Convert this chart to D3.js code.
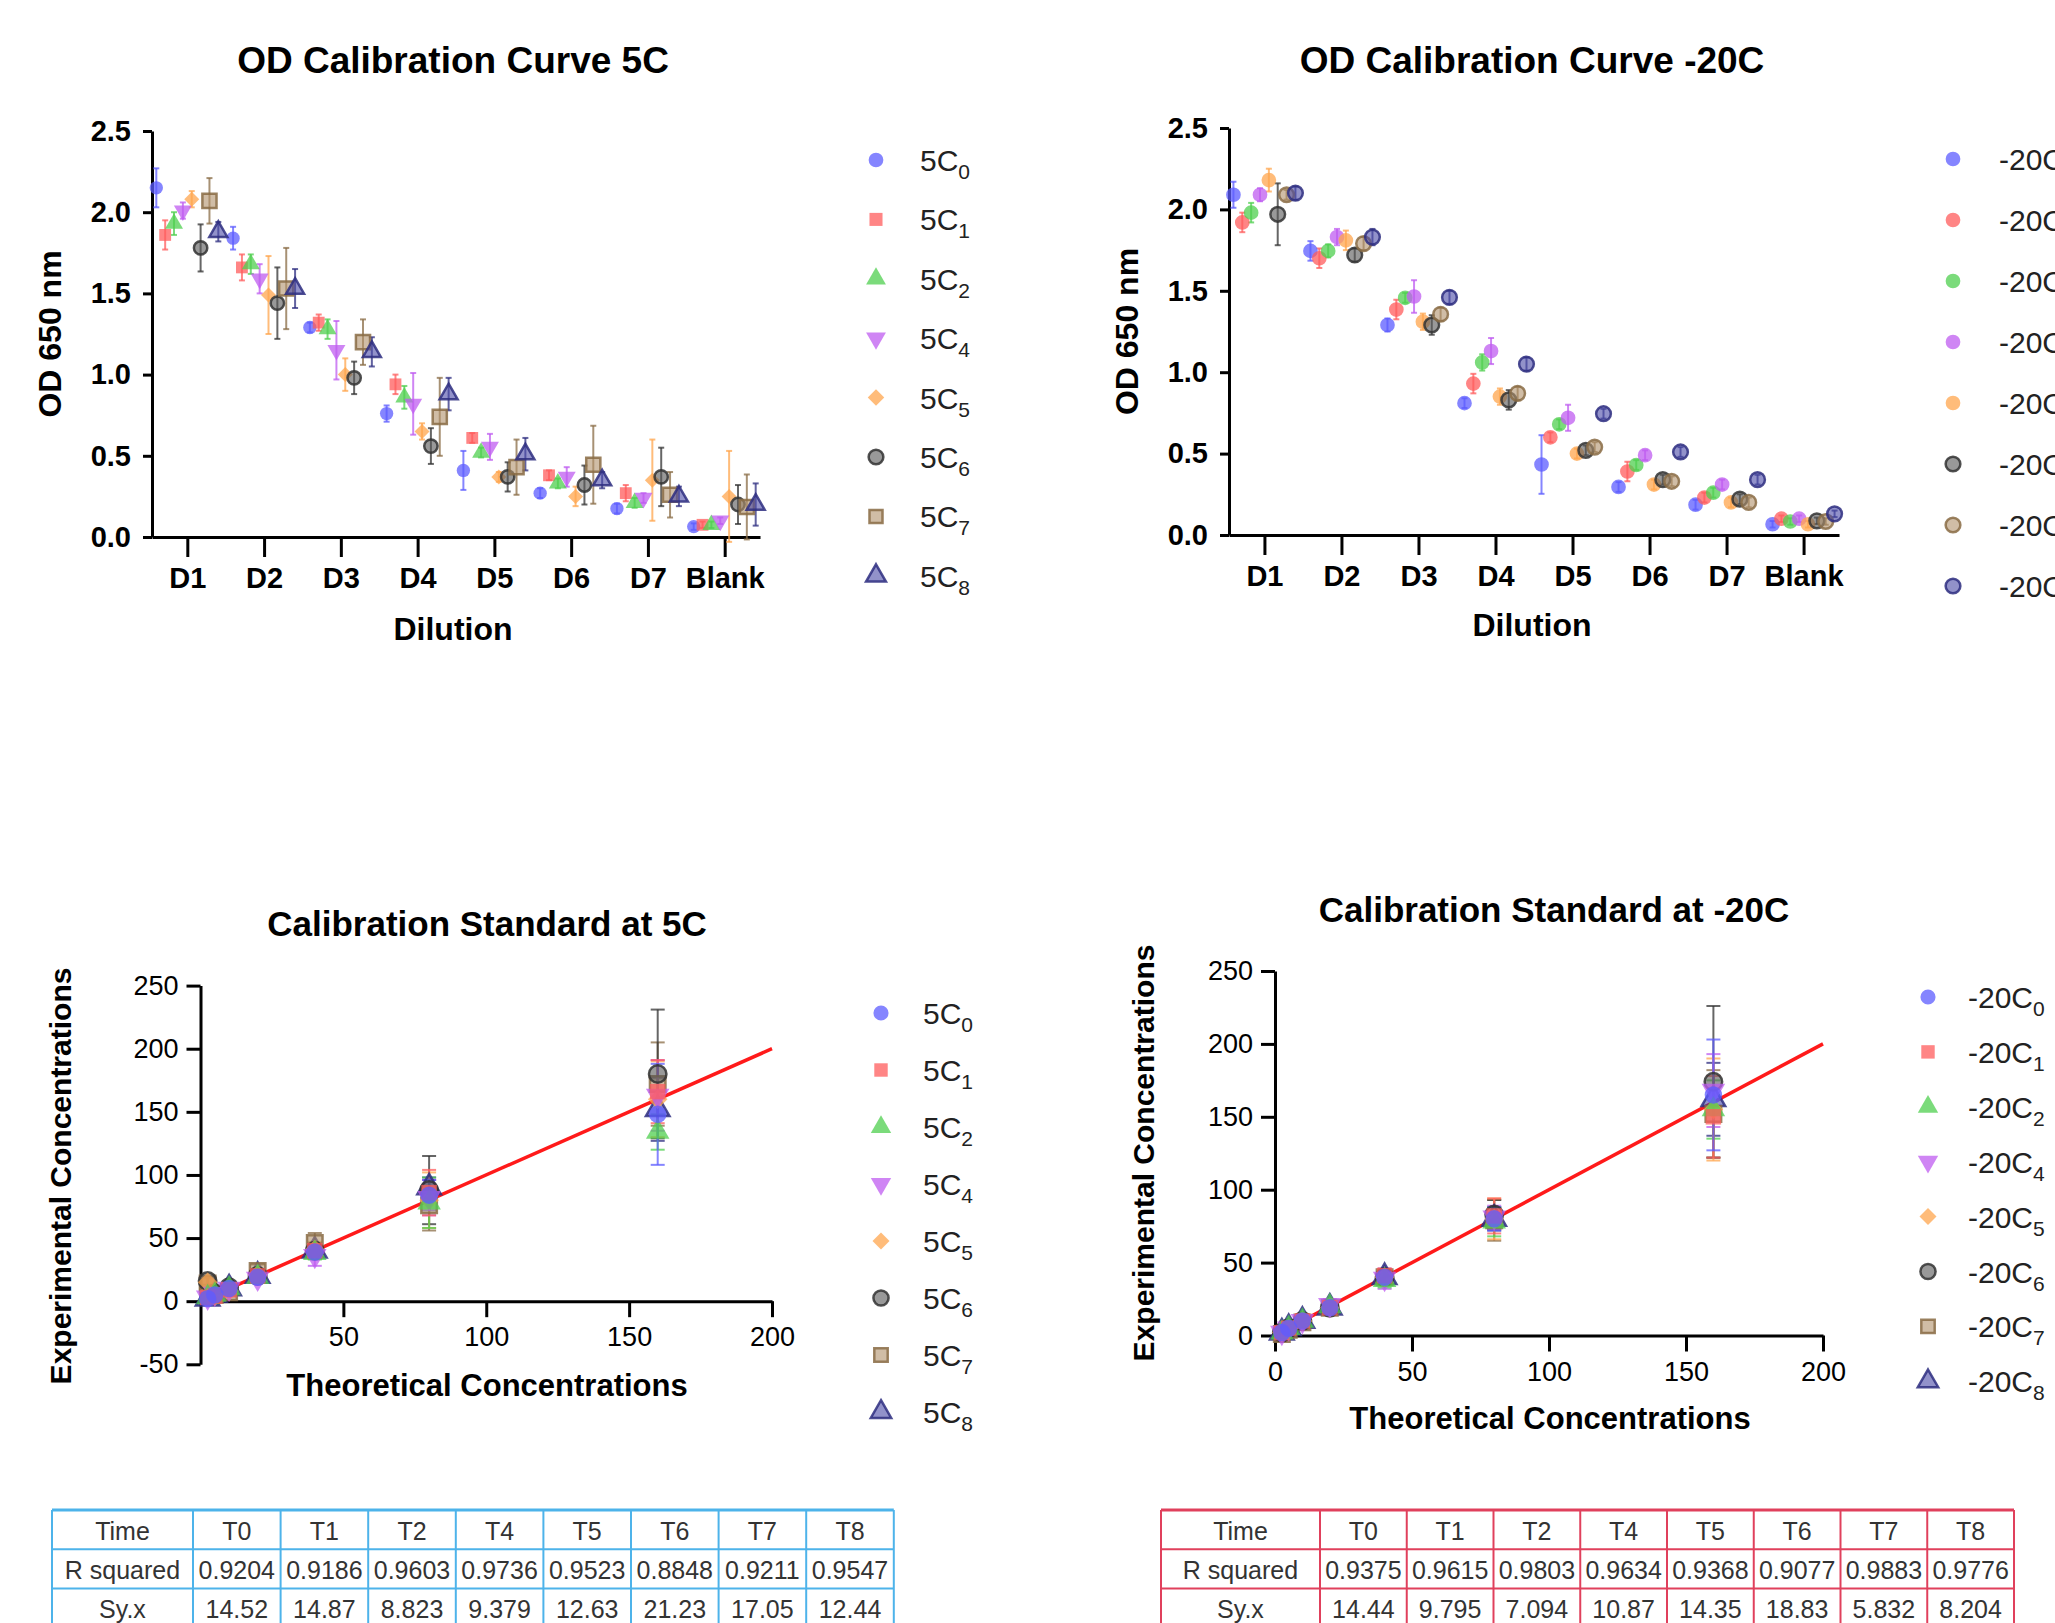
<!DOCTYPE html>
<html>
<head>
<meta charset="utf-8">
<script src="https://cdn.jsdelivr.net/npm/d3@7"></script>
<style>
body{margin:0;background:#fff}
svg{display:block}
</style>
</head>
<body>
<svg id="chart" width="2055" height="1623"></svg>
<script>
// ---- data ----
const dilutions = ['D1','D2','D3','D4','D5','D6','D7','Blank']
const seriesIdx = ['0','1','2','4','5','6','7','8']
const concentrations = [160, 80, 40, 20, 10, 5, 2.5]

// OD 650 at 5C, one row per series (0,1,2,4,5,6,7,8), one column per dilution
const od5Mean = [
  [2.15, 1.84, 1.29, 0.76, 0.41, 0.27, 0.175, 0.064],
  [1.86, 1.66, 1.32, 0.94, 0.61, 0.38, 0.27, 0.075],
  [1.93, 1.68, 1.28, 0.86, 0.52, 0.33, 0.21, 0.075],
  [2.01, 1.59, 1.15, 0.82, 0.555, 0.37, 0.24, 0.10],
  [2.08, 1.49, 1.00, 0.65, 0.37, 0.25, 0.35, 0.25],
  [1.78, 1.44, 0.98, 0.56, 0.37, 0.32, 0.37, 0.20],
  [2.07, 1.53, 1.20, 0.74, 0.43, 0.445, 0.26, 0.185],
  [1.88, 1.53, 1.14, 0.88, 0.51, 0.35, 0.25, 0.20]
]
const od5Err = [
  [0.12, 0.07, 0.03, 0.05, 0.12, 0.03, 0.03, 0.02],
  [0.09, 0.08, 0.05, 0.06, 0.03, 0.03, 0.05, 0.02],
  [0.07, 0.06, 0.06, 0.07, 0.03, 0.03, 0.03, 0.02],
  [0.05, 0.09, 0.18, 0.19, 0.08, 0.06, 0.03, 0.02],
  [0.05, 0.24, 0.10, 0.05, 0.03, 0.06, 0.25, 0.28],
  [0.145, 0.22, 0.10, 0.11, 0.09, 0.12, 0.18, 0.12],
  [0.14, 0.25, 0.14, 0.24, 0.17, 0.24, 0.14, 0.20],
  [0.06, 0.12, 0.09, 0.10, 0.10, 0.05, 0.06, 0.13]
]

// OD 650 at -20C
const od20Mean = [
  [2.09, 1.745, 1.29, 0.81, 0.433, 0.295, 0.186, 0.066],
  [1.92, 1.70, 1.385, 0.93, 0.60, 0.39, 0.23, 0.10],
  [1.98, 1.745, 1.457, 1.06, 0.68, 0.43, 0.26, 0.083],
  [2.09, 1.83, 1.465, 1.13, 0.72, 0.49, 0.31, 0.10],
  [2.18, 1.81, 1.31, 0.85, 0.50, 0.31, 0.20, 0.066],
  [1.97, 1.72, 1.29, 0.83, 0.52, 0.34, 0.22, 0.087],
  [2.09, 1.79, 1.356, 0.87, 0.54, 0.33, 0.20, 0.083],
  [2.10, 1.83, 1.46, 1.05, 0.745, 0.51, 0.34, 0.13]
]
const od20Err = [
  [0.08, 0.06, 0.04, 0.03, 0.18, 0.03, 0.03, 0.02],
  [0.06, 0.06, 0.06, 0.06, 0.03, 0.06, 0.03, 0.02],
  [0.06, 0.04, 0.03, 0.05, 0.03, 0.03, 0.03, 0.02],
  [0.04, 0.05, 0.10, 0.08, 0.08, 0.03, 0.03, 0.02],
  [0.07, 0.06, 0.05, 0.05, 0.03, 0.03, 0.03, 0.02],
  [0.19, 0.04, 0.06, 0.06, 0.03, 0.03, 0.03, 0.02],
  [0.03, 0.04, 0.04, 0.04, 0.03, 0.03, 0.03, 0.02],
  [0.04, 0.05, 0.04, 0.04, 0.03, 0.03, 0.03, 0.02]
]

// back-calculated concentrations, one column per theoretical concentration
const std5Mean = [
  [148, 84, 39, 19, 10, 5, 2],
  [166, 86, 40, 20, 9, 4, 3],
  [134, 78, 38, 19, 10, 5, 3],
  [163, 82, 36, 18, 10, 6, 3],
  [160, 80, 41, 21, 8, 4, 15],
  [180, 88, 40, 20, 11, 6, 16],
  [172, 76, 46, 24, 7, 5, 14],
  [152, 90, 40, 20, 10, 5, 2]
]
const std5Err = [
  [40, 12, 5, 3, 2, 2, 2],
  [25, 18, 6, 4, 2, 2, 2],
  [14, 20, 5, 3, 2, 2, 2],
  [28, 14, 8, 3, 2, 2, 2],
  [30, 22, 6, 4, 3, 3, 4],
  [51, 27, 6, 4, 3, 3, 3],
  [33, 20, 8, 5, 3, 3, 5],
  [25, 8, 4, 3, 2, 2, 2]
]
const std20Mean = [
  [165, 80, 40, 19, 10, 5, 2],
  [150, 82, 41, 19, 10, 5, 2],
  [155, 78, 38, 20, 10, 5, 2],
  [168, 81, 39, 21, 10, 5, 2],
  [155, 80, 40, 19, 10, 5, 2],
  [174, 83, 40, 19, 10, 5, 2],
  [152, 79, 40, 19, 9, 4, 1],
  [162, 80, 40, 19, 10, 5, 2]
]
const std20Err = [
  [38, 8, 5, 3, 2, 2, 1],
  [28, 12, 5, 3, 2, 2, 1],
  [20, 10, 5, 3, 2, 2, 1],
  [25, 8, 7, 4, 2, 2, 1],
  [35, 14, 4, 3, 2, 2, 1],
  [52, 10, 4, 3, 2, 2, 1],
  [30, 14, 4, 3, 2, 2, 1],
  [25, 8, 4, 3, 2, 2, 1]
]
const fitLineX = [2.5, 200]

const tableHeader = ['Time','T0','T1','T2','T4','T5','T6','T7','T8']
const r2At5 = ['0.9204','0.9186','0.9603','0.9736','0.9523','0.8848','0.9211','0.9547']
const syxAt5 = ['14.52','14.87','8.823','9.379','12.63','21.23','17.05','12.44']
const r2At20 = ['0.9375','0.9615','0.9803','0.9634','0.9368','0.9077','0.9883','0.9776']
const syxAt20 = ['14.44','9.795','7.094','10.87','14.35','18.83','5.832','8.204']

// ---- styles ----
const FONT = '"Liberation Sans", Arial, Helvetica, sans-serif'
const fillColor = ['#5c5cff','#ff5c5c','#4fcf4f','#bf5cf0','#ffa64d','#555555','#b0916a','#4a4aa6']
const strokeColor = ['#5c5cff','#ff5c5c','#4fcf4f','#bf5cf0','#ffa64d','#333333','#8a6c45','#2e2e80']
const shapes = ['circle','square','triangle','down','diamond','circle','square','triangle']

const svg = d3.select('#chart').attr('font-family', FONT)
svg.append('rect').attr('width',2055).attr('height',1623).attr('fill','#fff')

function symbolPath(shape, size){
  if(shape === 'circle') return {d: d3.symbol(d3.symbolCircle, size)(), rot: 0}
  if(shape === 'square') return {d: d3.symbol(d3.symbolSquare, size)(), rot: 0}
  if(shape === 'diamond') return {d: d3.symbol(d3.symbolSquare, size*0.8)(), rot: 45}
  if(shape === 'down') return {d: d3.symbol(d3.symbolTriangle, size)(), rot: 180}
  return {d: d3.symbol(d3.symbolTriangle, size)(), rot: 0}
}

function marker(g, i, x, y, size, shape){
  const s = symbolPath(shape, size)
  g.append('path')
    .attr('d', s.d)
    .attr('transform', `translate(${x},${y}) rotate(${s.rot})`)
    .attr('fill', fillColor[i])
    .attr('fill-opacity', i >= 5 ? 0.6 : 0.75)
    .attr('stroke', strokeColor[i])
    .attr('stroke-opacity', 0.85)
    .attr('stroke-width', i >= 5 ? 2.5 : 0)
}

function errorBar(g, i, x, y0, y1, cap){
  const c = strokeColor[i]
  g.append('line').attr('x1',x).attr('x2',x).attr('y1',y0).attr('y2',y1)
    .attr('stroke',c).attr('stroke-width',2).attr('stroke-opacity',0.75)
  ;[y0,y1].forEach(yy => {
    g.append('line').attr('x1',x-cap).attr('x2',x+cap).attr('y1',yy).attr('y2',yy)
      .attr('stroke',c).attr('stroke-width',2).attr('stroke-opacity',0.75)
  })
}

function styleAxis(sel, size, weight){
  sel.select('.domain').attr('stroke','#000').attr('stroke-width',3)
  sel.selectAll('.tick line').attr('stroke','#000').attr('stroke-width',3)
  sel.selectAll('.tick text').attr('fill','#000').attr('font-size',size)
    .attr('font-weight',weight).attr('font-family',FONT)
}

function legend(cfg){
  const g = svg.append('g')
  seriesIdx.forEach((s,i) => {
    const y = cfg.y0 + i*cfg.dy
    marker(g, i, cfg.x, y, cfg.size, cfg.circles ? 'circle' : shapes[i])
    const t = g.append('text').attr('x', cfg.tx).attr('y', y + 11)
      .attr('font-size', 30).attr('fill','#222')
    t.append('tspan').text(cfg.prefix)
    t.append('tspan').text(s).attr('font-size', 21).attr('dy', 8)
  })
}

function label(text, x, y, size, rotate){
  svg.append('text').text(text)
    .attr('transform', `translate(${x},${y}) rotate(${rotate||0})`)
    .attr('text-anchor','middle').attr('dominant-baseline','central')
    .attr('font-size', size).attr('font-weight','bold').attr('fill','#000')
}

function drawOD(cfg){
  const g = svg.append('g')
  const x = d3.scalePoint().domain(dilutions).range([cfg.left, cfg.right]).padding(0.46)
  const off = d3.scalePoint().domain(seriesIdx).range([-31, 31])
  const y = d3.scaleLinear().domain([0, 2.5]).range([cfg.bottom, cfg.top])

  const ya = g.append('g').attr('transform',`translate(${cfg.left},0)`)
    .call(d3.axisLeft(y).tickValues([0,0.5,1,1.5,2,2.5]).tickFormat(d3.format('.1f'))
      .tickSize(9).tickSizeOuter(0).tickPadding(12))
  styleAxis(ya, 29, 'bold')
  const xa = g.append('g').attr('transform',`translate(0,${cfg.bottom})`)
    .call(d3.axisBottom(x).tickSize(20).tickSizeOuter(0).tickPadding(10))
  styleAxis(xa, 29, 'bold')

  seriesIdx.forEach((s,i) => {
    dilutions.forEach((d,j) => {
      const px = x(d) + off(s)
      const m = cfg.means[i][j], e = cfg.errs[i][j]
      errorBar(g, i, px, y(m-e), y(m+e), 3)
    })
  })
  seriesIdx.forEach((s,i) => {
    dilutions.forEach((d,j) => {
      const px = x(d) + off(s)
      const sz = cfg.circles ? 170 : (i === 6 ? 200 : 140)
      marker(g, i, px, y(cfg.means[i][j]), sz, cfg.circles ? 'circle' : shapes[i])
    })
  })

  label(cfg.title, cfg.titleX, 60, 37)
  label('OD 650 nm', cfg.ylabX, (cfg.top+cfg.bottom)/2, 32, -90)
  label('Dilution', cfg.titleX, cfg.xlabY, 32)
}

function drawCal(cfg){
  const g = svg.append('g')
  const x = d3.scaleLinear().domain([0, 200]).range([cfg.left, cfg.right])
  const y = d3.scaleLinear().domain(cfg.yDomain).range([cfg.bottom, cfg.top])

  const ya = g.append('g').attr('transform',`translate(${cfg.left},0)`)
    .call(d3.axisLeft(y).tickValues(cfg.yTicks).tickFormat(d => String(d))
      .tickSize(14).tickSizeOuter(0).tickPadding(8))
  styleAxis(ya, 27, 'normal')
  const xa = g.append('g').attr('transform',`translate(0,${y(0)})`)
    .call(d3.axisBottom(x).tickValues(cfg.xTicks).tickFormat(d => String(d))
      .tickSize(16).tickSizeOuter(0).tickPadding(10))
  styleAxis(xa, 27, 'normal')

  g.append('line')
    .attr('x1', x(fitLineX[0])).attr('y1', y(fitLineX[0]))
    .attr('x2', x(fitLineX[1])).attr('y2', y(fitLineX[1]))
    .attr('stroke', '#ff1a1a').attr('stroke-width', 3.5)

  // later time points sit underneath, T0 on top
  const order = d3.range(seriesIdx.length).reverse()
  order.forEach(i => {
    concentrations.forEach((c,j) => {
      const m = cfg.means[i][j], e = cfg.errs[i][j]
      errorBar(g, i, x(c), y(m-e), y(m+e), 7)
    })
  })
  order.forEach(i => {
    concentrations.forEach((c,j) => {
      marker(g, i, x(c), y(cfg.means[i][j]), 240, shapes[i])
    })
  })

  label(cfg.title, cfg.titleX, cfg.titleY, 35)
  label('Theoretical Concentrations', cfg.xlabX, cfg.xlabY, 31)
  label('Experimental Concentrations', cfg.ylabX, cfg.ylabY, 30, -90)
}

function table(cfg){
  const g = svg.append('g')
  const rows = [tableHeader, ['R squared'].concat(cfg.r2), ['Sy.x'].concat(cfg.syx)]
  const colX = [cfg.left, cfg.left + cfg.firstW]
  for(let k = 1; k <= 8; k++) colX.push(cfg.left + cfg.firstW + k*cfg.colW)
  const rowH = 39.3
  rows.forEach((r,ri) => {
    r.forEach((v,ci) => {
      g.append('text').text(v)
        .attr('x', (colX[ci] + colX[ci+1])/2)
        .attr('y', cfg.top + ri*rowH + rowH/2 + 1)
        .attr('text-anchor','middle').attr('dominant-baseline','central')
        .attr('font-size', 25).attr('fill','#333')
    })
  })
  const bottom = cfg.top + 3*rowH
  for(let ri = 0; ri <= 3; ri++){
    g.append('line').attr('x1',colX[0]).attr('x2',colX[9])
      .attr('y1',cfg.top + ri*rowH).attr('y2',cfg.top + ri*rowH)
      .attr('stroke',cfg.color).attr('stroke-width', ri === 0 ? 3 : 2)
  }
  colX.forEach(cx => {
    g.append('line').attr('x1',cx).attr('x2',cx).attr('y1',cfg.top).attr('y2',bottom)
      .attr('stroke',cfg.color).attr('stroke-width',2)
  })
}

drawOD({title:'OD Calibration Curve 5C', means:od5Mean, errs:od5Err, circles:false,
  left:152, right:760, top:131, bottom:537, titleX:453, ylabX:50, xlabY:629})
drawOD({title:'OD Calibration Curve -20C', means:od20Mean, errs:od20Err, circles:true,
  left:1229, right:1839, top:128, bottom:535, titleX:1532, ylabX:1127, xlabY:625})

legend({prefix:'5C', x:876, tx:920, y0:160, dy:59.4, size:170, circles:false})
legend({prefix:'-20C', x:1953, tx:1999, y0:159, dy:61, size:170, circles:true})

drawCal({title:'Calibration Standard at 5C', means:std5Mean, errs:std5Err,
  left:200.5, right:772, top:985.6, bottom:1364.3, yDomain:[-50,250],
  yTicks:[-50,0,50,100,150,200,250], xTicks:[50,100,150,200],
  titleX:487, titleY:923, xlabX:487, xlabY:1385, ylabX:60, ylabY:1176})
drawCal({title:'Calibration Standard at -20C', means:std20Mean, errs:std20Err,
  left:1275, right:1823, top:971, bottom:1335.5, yDomain:[0,250],
  yTicks:[0,50,100,150,200,250], xTicks:[0,50,100,150,200],
  titleX:1554, titleY:909, xlabX:1550, xlabY:1418, ylabX:1143, ylabY:1153})

legend({prefix:'5C', x:881, tx:923, y0:1013, dy:57, size:180, circles:false})
legend({prefix:'-20C', x:1928, tx:1968, y0:997, dy:54.9, size:180, circles:false})

table({left:52, firstW:141, colW:87.6, top:1510, color:'#4db3ea', r2:r2At5, syx:syxAt5})
table({left:1161, firstW:159, colW:86.75, top:1510, color:'#e0405c', r2:r2At20, syx:syxAt20})
</script>
</body>
</html>
